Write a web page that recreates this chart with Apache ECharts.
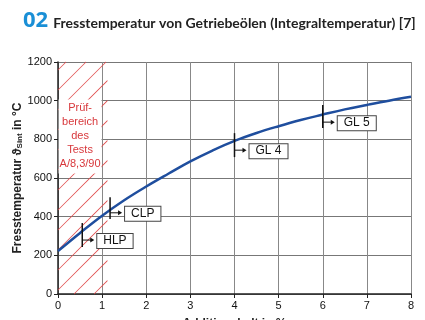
<!DOCTYPE html>
<html><head><meta charset="utf-8">
<script src="https://cdn.jsdelivr.net/npm/echarts@6/dist/echarts.min.js"></script>
<style>html,body{margin:0;padding:0;background:#fff}#c{width:425px;height:320px}</style>
</head><body><div id="c"></div>
<script>
// Curve: Additivgehalt (x) vs Fresstemperatur (y)
const curveX = [0, 0.5, 1, 1.5, 2, 2.5, 3, 3.5, 4, 4.5, 5, 5.5, 6, 6.5, 7, 7.5, 8];
const curveY = [222, 316, 405, 485, 556, 622, 686, 742, 792, 833, 868, 900, 928, 955, 978, 1000, 1020];
// Oil class markers
const markerNames = ['HLP', 'CLP', 'GL 4', 'GL 5'];
const markerX = [0.55, 1.18, 4, 6];
const markerTop = [367, 501, 832, 977];
const markerBottom = [243, 388, 708, 858];
const markerArrow = [279, 420, 744, 889];
// Test range
const testRange = [0, 1];
const testLabel = 'Prüf-\nbereich\ndes\nTests\nA/8,3/90';
const xTicks = [0, 1, 2, 3, 4, 5, 6, 7, 8];
const yTicks = [0, 200, 400, 600, 800, 1000, 1200];

const HATCH = '#e04848';
const chart = echarts.init(document.getElementById('c'));
const F = 'Liberation Sans, Arial, sans-serif';
chart.setOption({
  animation: false,
  backgroundColor: '#fff',
  title: {
    text: '{n|02} {t|Fresstemperatur von Getriebeölen (Integraltemperatur) [7]}',
    left: 18, top: 5,
    textStyle: {
      rich: {
        n: {fontFamily: 'Open Sans', fontWeight: 'bold', fontSize: 22, color: '#1a8fd6'},
        t: {fontFamily: 'Lato', fontWeight: 'bold', fontSize: 14, color: '#222', padding: [4, 0, 0, 0]}
      }
    }
  },
  grid: {left: 58, right: 14, top: 62, bottom: 26, outerBoundsMode: 'none', containLabel: false},
  xAxis: {
    type: 'value', min: xTicks[0], max: xTicks[xTicks.length - 1], interval: 1,
    name: 'Additivgehalt in %', nameLocation: 'middle', nameGap: 24, nameMoveOverlap: false,
    nameTextStyle: {fontFamily: F, fontWeight: 'bold', fontSize: 12, color: '#222'},
    axisLine: {lineStyle: {color: '#222', width: 1.5}},
    axisTick: {show: true, length: 4, lineStyle: {color: '#222'}},
    axisLabel: {fontFamily: F, fontSize: 11, color: '#111', margin: 6},
    splitLine: {show: true, lineStyle: {color: '#888', width: 1}}
  },
  yAxis: {
    type: 'value', min: yTicks[0], max: yTicks[yTicks.length - 1], interval: 200,
    name: 'Fresstemperatur ϑ{s|Sint} in °C', nameLocation: 'middle', nameGap: 34, nameRotate: 90, nameMoveOverlap: false,
    nameTextStyle: {fontFamily: F, fontWeight: 'bold', fontSize: 12, color: '#222',
      rich: {s: {fontFamily: F, fontWeight: 'bold', fontSize: 8, color: '#222', verticalAlign: 'bottom', padding: [4, 0, 0, 0]}}},
    axisLine: {show: true, lineStyle: {color: '#222', width: 1.5}},
    axisTick: {show: true, length: 4, lineStyle: {color: '#222'}},
    axisLabel: {fontFamily: F, fontSize: 11, color: '#111', margin: 6, formatter: v => String(v)},
    splitLine: {show: true, lineStyle: {color: '#777', width: 1}}
  },
  series: [
    {
      type: 'custom', z: 1, silent: true,
      data: [[testRange[0], testRange[1]]],
      renderItem: function (params, api) {
        const a = api.coord([api.value(0), 1200]);
        const b = api.coord([api.value(1) + 0.12, 0]);
        const x0 = a[0], y0 = a[1], x1 = b[0], y1 = b[1];
        const children = [];
        const step = 20;
        for (let c = x0 + y0 + 8; c < x1 + y1 + step; c += step) {
          const xa = Math.max(x0, c - y1), xb = Math.min(x1, c - y0);
          if (xa < xb) {
            children.push({type: 'polygon', shape: {points: [[xa, c - xa - 0.6], [xb, c - xb - 0.6], [xb, c - xb + 0.6], [xa, c - xa + 0.6]]},
              style: {fill: HATCH, stroke: null}});
          }
        }
        const mid = api.coord([(api.value(0) + api.value(1)) / 2, 815]);
        children.push({type: 'text', style: {text: testLabel, x: mid[0], y: mid[1], align: 'center', verticalAlign: 'middle',
            font: '11px ' + F, fill: '#d8383c', lineHeight: 14, backgroundColor: '#fff', padding: [2, 1, 2, 1]}});
        return {type: 'group', children: children};
      }
    },
    {
      type: 'line', z: 3, showSymbol: false, smooth: 0.4,
      data: curveX.map((x, i) => [x, curveY[i]]),
      lineStyle: {color: '#1f4e9e', width: 2.5}
    },
    {
      type: 'custom', z: 4, silent: true,
      data: markerNames.map((n, i) => [markerX[i], markerTop[i], markerBottom[i], markerArrow[i], i]),
      renderItem: function (params, api) {
        const t = api.coord([api.value(0), api.value(1)]);
        const b = api.coord([api.value(0), api.value(2)]);
        const ar = api.coord([api.value(0), api.value(3)]);
        const x = t[0], ya = ar[1];
        return {type: 'group', children: [
          {type: 'line', shape: {x1: x, y1: t[1], x2: x, y2: b[1]}, style: {stroke: '#111', lineWidth: 1.5}},
          {type: 'line', shape: {x1: x, y1: ya, x2: x + 9, y2: ya}, style: {stroke: '#111', lineWidth: 1}},
          {type: 'polygon', shape: {points: [[x + 12, ya], [x + 8, ya - 2.5], [x + 8, ya + 2.5]]}, style: {fill: '#111'}},
          {type: 'text', style: {text: markerNames[api.value(4)], x: x + 15, y: ya + 1, verticalAlign: 'middle',
            font: '12px ' + F, fill: '#111', backgroundColor: '#fff', borderColor: '#444', borderWidth: 1, padding: [1, 6, 1, 6]}}
        ]};
      }
    }
  ]
});
</script></body></html>
